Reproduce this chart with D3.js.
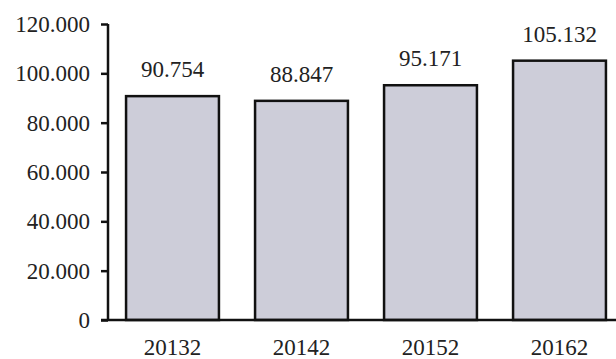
<!DOCTYPE html>
<html>
<head>
<meta charset="utf-8">
<script src="https://cdn.jsdelivr.net/npm/d3@7"></script>
<style>
  html, body { margin: 0; padding: 0; background: #fff; }
  svg { display: block; font-family: 'Liberation Serif', 'Times New Roman', serif; }
</style>
</head>
<body>
<div id="svg-container"></div>
<script>
const categories = ['20132', '20142', '20152', '20162']
const values = [90754, 88847, 95171, 105132]
const valueLabels = ['90.754', '88.847', '95.171', '105.132']
const yTicks = [0, 20000, 40000, 60000, 80000, 100000, 120000]
const yTickLabels = ['0', '20.000', '40.000', '60.000', '80.000', '100.000', '120.000']

const width = 616
const height = 359
const axisX = 108
const baseY = 320
const topY = 24
const fontSize = 23

const svg = d3
  .select('#svg-container')
  .append('svg')
  .attr('width', width)
  .attr('height', height)
  .attr('viewBox', `0 0 ${width} ${height}`)

const xScale = d3
  .scaleBand()
  .domain(categories)
  .range([axisX, 624])
  .paddingInner(0.28)
  .paddingOuter(0.14)

const yScale = d3.scaleLinear().domain([0, 120000]).range([baseY, topY])

// bars
svg
  .selectAll('rect.bar')
  .data(values)
  .join('rect')
  .attr('class', 'bar')
  .attr('x', (d, i) => xScale(categories[i]))
  .attr('y', d => yScale(d))
  .attr('width', xScale.bandwidth())
  .attr('height', d => baseY - yScale(d))
  .attr('fill', '#cdcdd9')
  .attr('stroke', '#111')
  .attr('stroke-width', 2.5)

// value labels
svg
  .selectAll('text.val')
  .data(values)
  .join('text')
  .attr('class', 'val')
  .attr('x', (d, i) => xScale(categories[i]) + xScale.bandwidth() / 2)
  .attr('y', d => yScale(d) - 19)
  .attr('text-anchor', 'middle')
  .attr('font-size', fontSize)
  .attr('fill', '#222')
  .text((d, i) => valueLabels[i])

// y axis
const yAxis = svg
  .append('g')
  .attr('transform', `translate(${axisX},0)`)
  .call(
    d3
      .axisLeft(yScale)
      .tickValues(yTicks)
      .tickSize(7)
      .tickPadding(11)
      .tickFormat((d, i) => yTickLabels[i]),
  )
yAxis.select('.domain').attr('stroke', '#111').attr('stroke-width', 2.5)
  .attr('d', `M0,${topY}V${baseY}`)
yAxis.selectAll('.tick line').attr('stroke', '#111').attr('stroke-width', 2.5)
yAxis
  .selectAll('.tick text')
  .attr('font-size', fontSize)
  .attr('font-family', "'Liberation Serif', serif")
  .attr('fill', '#222')

// baseline
svg
  .append('line')
  .attr('x1', axisX - 7)
  .attr('x2', width)
  .attr('y1', baseY)
  .attr('y2', baseY)
  .attr('stroke', '#111')
  .attr('stroke-width', 2.5)

// x labels
svg
  .selectAll('text.cat')
  .data(categories)
  .join('text')
  .attr('class', 'cat')
  .attr('x', d => xScale(d) + xScale.bandwidth() / 2)
  .attr('y', 355)
  .attr('text-anchor', 'middle')
  .attr('font-size', fontSize)
  .attr('fill', '#222')
  .text(d => d)
</script>
</body>
</html>
